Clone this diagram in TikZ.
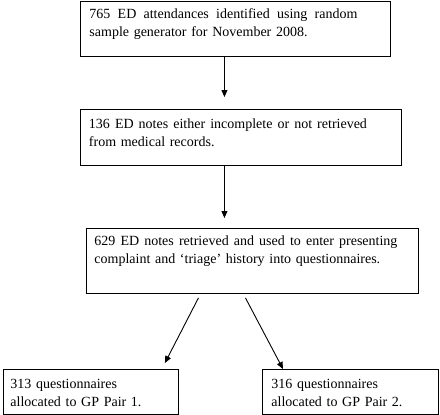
\documentclass[tikz,border=0pt]{standalone}
\usepackage{fontspec}
\setmainfont{Liberation Serif}[WordSpace=1.6]
\usetikzlibrary{arrows.meta}

\begin{document}
\begin{tikzpicture}[x=1pt, y=-1pt, line width=0.9pt,
  >={Triangle[length=7pt,width=6pt]},
  box/.style={draw, anchor=north west, align=left, inner ysep=0pt,
    font=\fontsize{14}{18.5}\selectfont}]

\useasboundingbox (0,0) rectangle (440,415);

\node[box, inner xsep=9pt, text width=292pt, text height=17pt, text depth=38pt] (n765) at (80,1)
  {\hbox to 268pt{\spaceskip=.3333em plus 1fil\relax 765 ED attendances identified using random}\\ sample generator for November 2008.};
\node[box, inner xsep=8.5pt, text width=304pt, text height=19pt, text depth=37pt] (n136) at (80,109)
  {\hbox to 278pt{\spaceskip=.3333em plus 1fil\relax 136 ED notes either incomplete or not retrieved}\\ from medical records.};
\node[box, inner xsep=8pt, text width=316pt, text height=17pt, text depth=48pt] (n629) at (86,228)
  {\hbox to 303pt{\spaceskip=.3333em plus 1fil\relax 629 ED notes retrieved and used to enter presenting}\\ complaint and ‘triage’ history into questionnaires.};

\node[box, inner xsep=7pt, text width=161pt, text height=19pt, text depth=26pt] (n313) at (3,369)
  {313 questionnaires\\ allocated to GP Pair 1.};
\node[box, inner xsep=9pt, text width=158pt, text height=19pt, text depth=26pt] (n316) at (262,369)
  {316 questionnaires\\ allocated to GP Pair 2.};

\draw[->, shorten >=12pt] ([xshift=-11pt]n765.south) -- ([xshift=-11pt]n765.south |- n136.north);
\draw[->, shorten >=10pt] ([xshift=-16.5pt]n136.south) -- ([xshift=-16.5pt]n136.south |- n629.north);

\draw[->] ([xshift=-54pt,yshift=-4pt]n629.south) -- ([xshift=-14pt,yshift=6pt]n313.north east);
\draw[->] ([xshift=-7pt,yshift=-4pt]n629.south) -- ([xshift=21pt]n316.north west);
\end{tikzpicture}
\end{document}
